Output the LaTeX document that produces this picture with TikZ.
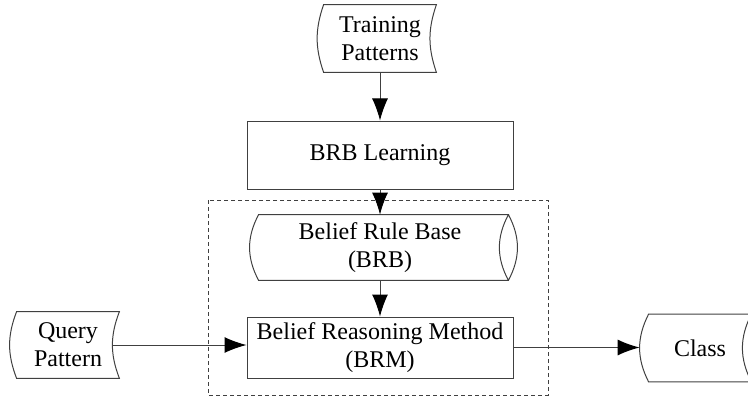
\documentclass[tikz,border=0pt]{standalone}
\usepackage{fontspec}
\setmainfont{Liberation Serif}
\usepackage{tikz}
\usetikzlibrary{positioning}
\usetikzlibrary{arrows.meta}
\usetikzlibrary{calc}

\begin{document}
\begin{tikzpicture}[x=0.5pt,y=-0.5pt]
\tikzstyle{every node}=[font=\fontsize{12}{14}\selectfont,align=center,inner sep=0pt]
\tikzstyle{edge}=[draw=black!75,line width=0.5pt]
\tikzstyle{block}=[edge,minimum width=133pt,minimum height=34pt]
\tikzstyle{store}=[minimum width=51pt,minimum height=33pt]
\tikzstyle{arr}=[edge,-{Latex[length=11pt,width=8pt,black]}]
\useasboundingbox (0,0) rectangle (748,401);

\node[store,minimum width=56pt,minimum height=33.5pt] (train) at (380,38.5) {Training\\Patterns};
\node[block] (learn) at (380,155) {BRB Learning};
\node[store,minimum width=121pt,minimum height=32.5pt] (brb) at (380,247.5) {Belief Rule Base\\(BRB)};
\node[block,minimum height=30.5pt] (brm) at (380,347.5) {Belief Reasoning Method\\(BRM)};
\node[store] (query) at (68,345) {Query\\Pattern};
\node[store,minimum height=33.5pt] (class) at (700,348) {Class};

% outlines of the stored data shapes
\draw[edge] (train.north west) to[bend right=19] (train.south west) -- (train.south east) to[bend left=19] (train.north east) -- cycle;
\draw[edge] (query.north west) to[bend right=21] (query.south west) -- (query.south east) to[bend left=21] (query.north east) -- cycle;
\draw[edge] (class.north west) to[bend right=27] (class.south west) -- (class.south east) to[bend left=27] (class.north east) -- cycle;

% rule base drum
\coordinate (brbne) at ($(brb.north east)+(7,0)$);
\coordinate (brbse) at ($(brb.south east)+(7,0)$);
\draw[edge] (brbse) to[bend left=28] (brbne) -- (brb.north west) to[bend right=28] (brb.south west) -- (brbse) to[bend right=28] (brbne);

\draw[edge,dash pattern=on 2pt off 1.5pt] (208,200) rectangle (548,395);

\coordinate (qout) at ($(query.east)+(-7,0)$);
\coordinate (cin) at ($(class.west)+(-9,0)$);

\draw[arr] (train) -- (learn);
\draw[arr] (learn) -- (brb);
\draw[arr] (brb) -- (brm);
\draw[arr] (qout) -- (qout -| brm.west);
\draw[arr] (brm.east) -- (brm.east -| cin);
\end{tikzpicture}
\end{document}
